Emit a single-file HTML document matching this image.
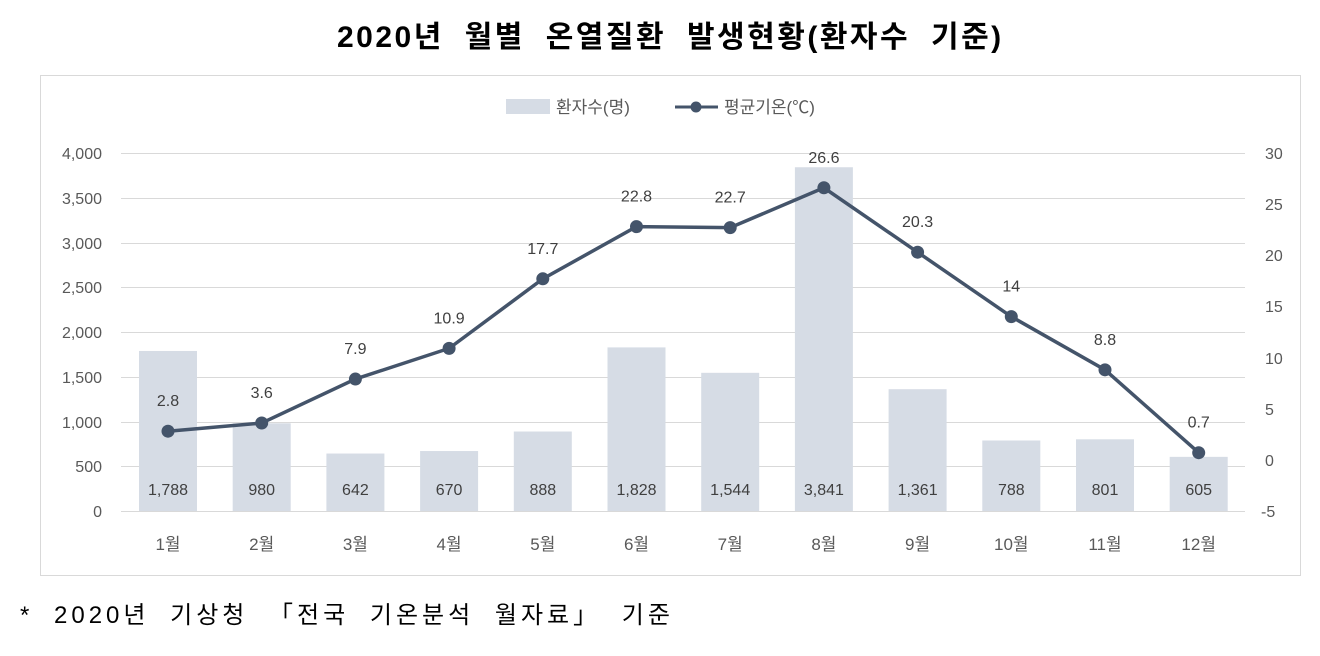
<!DOCTYPE html>
<html><head><meta charset="utf-8"><style>
body{margin:0;background:#fff;width:1320px;height:656px;overflow:hidden}
svg{display:block;font-family:"Liberation Sans","Noto Sans CJK KR",sans-serif}
</style></head><body>
<svg width="1320" height="656" viewBox="0 0 1320 656">
<text x="337" y="47" word-spacing="10" letter-spacing="2.5" font-size="30" font-weight="bold" fill="#000">2020년 월별 온열질환 발생현황(환자수 기준)</text>
<rect x="40.5" y="75.5" width="1260" height="500" fill="#fff" stroke="#d9d9d9"/>
<rect x="506" y="99" width="44" height="15" fill="#d6dce5"/>
<text x="556" y="113" font-size="17" fill="#595959">환자수(명)</text>
<line x1="675" y1="107" x2="718" y2="107" stroke="#44546a" stroke-width="3"/>
<circle cx="696" cy="107" r="5.5" fill="#44546a"/>
<text x="724" y="113" font-size="17" fill="#595959">평균기온(℃)</text>
<g stroke="#d9d9d9" stroke-width="1">
<line x1="121" y1="153.5" x2="1245" y2="153.5"/><line x1="121" y1="198.5" x2="1245" y2="198.5"/>
<line x1="121" y1="243.5" x2="1245" y2="243.5"/><line x1="121" y1="287.5" x2="1245" y2="287.5"/>
<line x1="121" y1="332.5" x2="1245" y2="332.5"/><line x1="121" y1="377.5" x2="1245" y2="377.5"/>
<line x1="121" y1="422.5" x2="1245" y2="422.5"/><line x1="121" y1="466.5" x2="1245" y2="466.5"/>
<line x1="121" y1="511.5" x2="1245" y2="511.5"/>
</g>
<g font-size="16" fill="#595959" text-anchor="end">
<text x="102" y="159">4,000</text><text x="102" y="204">3,500</text><text x="102" y="249">3,000</text>
<text x="102" y="293">2,500</text><text x="102" y="338">2,000</text><text x="102" y="383">1,500</text>
<text x="102" y="428">1,000</text><text x="102" y="472">500</text><text x="102" y="517">0</text>
</g>
<g font-size="16" fill="#595959" text-anchor="start">
<text x="1265" y="159">30</text><text x="1265" y="210">25</text><text x="1265" y="261">20</text>
<text x="1265" y="312">15</text><text x="1265" y="364">10</text><text x="1265" y="415">5</text>
<text x="1265" y="466">0</text><text x="1261" y="517">-5</text>
</g>
<g id="bars" fill="#d6dce5"></g>
<g id="blab" font-size="16" fill="#404040" text-anchor="middle"></g>
<g id="xlab" font-size="17" fill="#595959" text-anchor="middle"></g>
<polyline id="ln" fill="none" stroke="#44546a" stroke-width="3.5"/>
<g id="pts" fill="#44546a"></g>
<g id="tlab" font-size="16" fill="#404040" text-anchor="middle"></g>
<text x="20" y="623" word-spacing="10" letter-spacing="4" font-size="24" fill="#000">* 2020년 기상청 「전국 기온분석 월자료」 기준</text>
</svg>
<script>
var v=[1788,980,642,670,888,1828,1544,3841,1361,788,801,605];
var t=[2.8,3.6,7.9,10.9,17.7,22.8,22.7,26.6,20.3,14,8.8,0.7];
var ns="http://www.w3.org/2000/svg",pts=[];
function el(p,n,a,tx){var e=document.createElementNS(ns,n);for(var k in a)e.setAttribute(k,a[k]);if(tx!=null)e.textContent=tx;document.getElementById(p).appendChild(e);}
for(var i=0;i<12;i++){var x=168+i*93.7;var h=v[i]/4000*358;
el("bars","rect",{x:x-29,y:511-h,width:58,height:h});
el("blab","text",{x:x,y:495},v[i].toLocaleString("en-US"));
el("xlab","text",{x:x,y:550},(i+1)+"월");
var y=511-(t[i]+5)*10.229;pts.push(x+","+y);
el("pts","circle",{cx:x,cy:y,r:6.5});
el("tlab","text",{x:x,y:y-25},String(t[i]));}
document.getElementById("ln").setAttribute("points",pts.join(" "));
</script>
</body></html>
